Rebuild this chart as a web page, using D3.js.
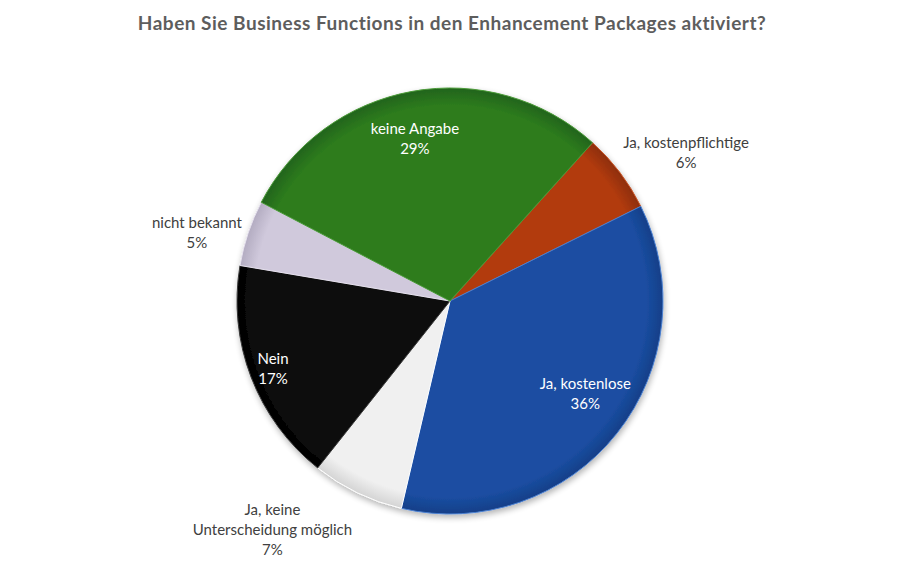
<!DOCTYPE html>
<html>
<head>
<meta charset="utf-8">
<script src="https://cdn.jsdelivr.net/npm/d3@7"></script>
<style>
  body { margin: 0; background: #fff; }
  svg { display: block; }
</style>
</head>
<body>
<div class="chart"></div>
<script>
// ======== data ========
var categories = ['Ja, kostenpflichtige', 'Ja, kostenlose', 'Ja, keine Unterscheidung möglich',
                  'Nein', 'nicht bekannt', 'keine Angabe'];
var values = [6, 36, 7, 17, 5, 29];
var labelLines = [['Ja, kostenpflichtige', '6%'], ['Ja, kostenlose', '36%'],
                  ['Ja, keine', 'Unterscheidung möglich', '7%'], ['Nein', '17%'],
                  ['nicht bekannt', '5%'], ['keine Angabe', '29%']];
var title = 'Haben Sie Business Functions in den Enhancement Packages aktiviert?';

// ======== styles / layout ========
var width = 900, height = 563;
var cx = 450, cy = 301, radius = 213;
var startDeg = 42;
var sliceColors = ['#b23b0b', '#1b4ea2', '#f0f0f0', '#0e0e0e', '#d0c9dc', '#2d7b1e'];
var rimColors   = ['#8e2e08', '#133f88', '#d4d4d4', '#000000', '#b3acc1', '#22641a'];
var edgeColors  = ['#c9572a', '#4a7fd0', '#ffffff', '#3a3a3a', '#e6e1ee', '#4a9a38'];
var labelColors = ['#404040', '#ffffff', '#404040', '#ffffff', '#404040', '#ffffff'];
// label radius (fraction of pie radius) and angle nudge in degrees
var labelPos = [[1.31, 5], [0.77, -4], [1.36, 12], [0.89, 0], [1.23, -3.6], [0.78, -2]];
var fontSize = 15, lineH = 20;
var fontFamily = 'Lato, "Open Sans", sans-serif';

var svg = d3.select('.chart').append('svg')
    .attr('width', width).attr('height', height);
var defs = svg.append('defs');

var shadow = defs.append('filter').attr('id', 'pieShadow')
    .attr('x', '-10%').attr('y', '-10%').attr('width', '120%').attr('height', '125%');
shadow.append('feGaussianBlur').attr('in', 'SourceAlpha').attr('stdDeviation', 3);
shadow.append('feOffset').attr('dx', 1).attr('dy', 3).attr('result', 'off');
shadow.append('feComponentTransfer').append('feFuncA').attr('type', 'linear').attr('slope', 0.3);
var merge = shadow.append('feMerge');
merge.append('feMergeNode');
merge.append('feMergeNode').attr('in', 'SourceGraphic');

// one radial gradient per slice (pie coords are centred on 0,0): flat centre, darker rim
sliceColors.forEach(function(c, i){
  var gr = defs.append('radialGradient').attr('id', 'slice' + i)
      .attr('gradientUnits', 'userSpaceOnUse')
      .attr('cx', 0).attr('cy', 0).attr('r', radius);
  gr.append('stop').attr('offset', '0%').attr('stop-color', c);
  gr.append('stop').attr('offset', '92%').attr('stop-color', c);
  gr.append('stop').attr('offset', '100%').attr('stop-color', rimColors[i]);
});

svg.append('text')
    .attr('x', width / 2 + 2).attr('y', 30)
    .attr('text-anchor', 'middle')
    .attr('font-family', fontFamily)
    .attr('font-weight', 'bold')
    .attr('font-size', 19)
    .attr('letter-spacing', 0.5)
    .attr('fill', '#5d5d5d')
    .text(title);

var toRad = Math.PI / 180;
var pie = d3.pie().sort(null).value(function(d){ return d; })
    .startAngle(startDeg * toRad).endAngle((startDeg + 360) * toRad);
var arcs = pie(values);
var arc = d3.arc().innerRadius(0).outerRadius(radius);

var g = svg.append('g').attr('transform', 'translate(' + cx + ',' + cy + ')');
var pieG = g.append('g').attr('filter', 'url(#pieShadow)');

pieG.selectAll('path.slice')
    .data(arcs).enter().append('path')
    .attr('class', 'slice')
    .attr('d', arc)
    .attr('fill', function(d, i){ return 'url(#slice' + i + ')'; })
    .attr('stroke', function(d, i){ return edgeColors[i]; })
    .attr('stroke-width', 1)
    .attr('stroke-linejoin', 'round');

// labels
var labelG = g.selectAll('g.label')
    .data(arcs).enter().append('g')
    .attr('class', 'label')
    .attr('transform', function(d, i){
      var a = (d.startAngle + d.endAngle) / 2 + labelPos[i][1] * toRad;
      var r = radius * labelPos[i][0];
      var la = d3.arc().innerRadius(r).outerRadius(r).startAngle(a).endAngle(a);
      var c = la.centroid();
      return 'translate(' + c[0] + ',' + c[1] + ')';
    });

labelG.each(function(d, i){
  var lines = labelLines[i];
  var t = d3.select(this).append('text')
      .attr('text-anchor', 'middle')
      .attr('font-family', fontFamily)
      .attr('font-size', fontSize)
      .attr('fill', labelColors[i]);
  lines.forEach(function(s, k){
    t.append('tspan')
        .attr('x', 0)
        .attr('y', (k - (lines.length - 1) / 2) * lineH + fontSize * 0.35)
        .text(s);
  });
});
</script>
</body>
</html>
